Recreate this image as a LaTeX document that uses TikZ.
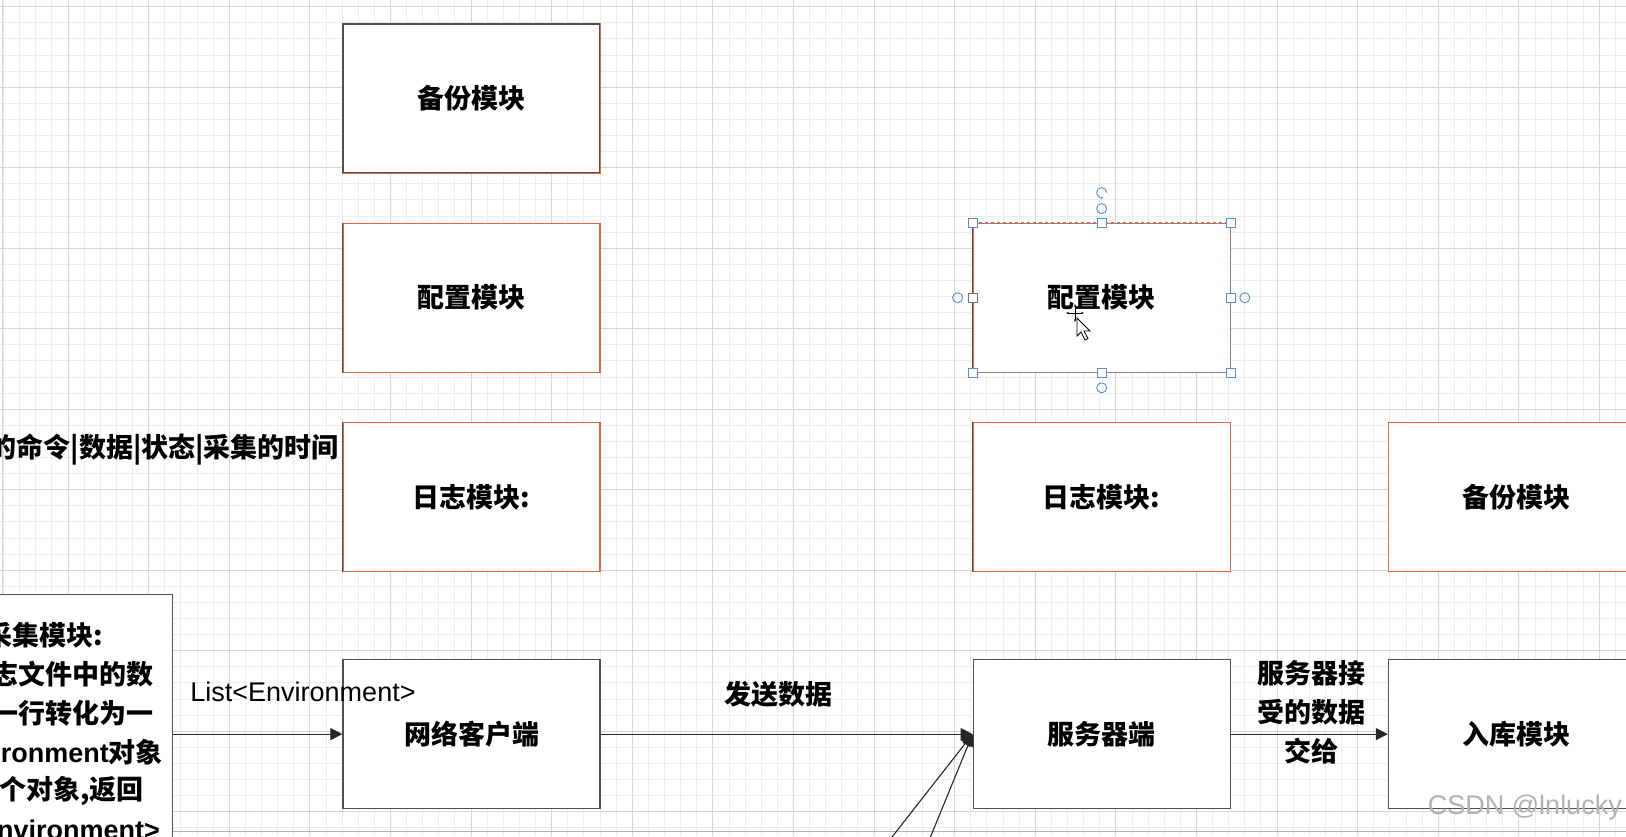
\documentclass[tikz,border=0pt]{standalone}
\usepackage{fontspec}
\setmainfont{Noto Sans CJK SC}
\newfontfamily\lat{Liberation Sans}
\usetikzlibrary{arrows.meta,positioning}
\definecolor{EdgeGray}{RGB}{80,80,80}
\definecolor{HotOrange}{RGB}{221,104,66}
\definecolor{GridMinor}{RGB}{237,237,237}
\definecolor{GridMajor}{RGB}{214,214,214}
\definecolor{PickBlue}{RGB}{86,142,206}
\definecolor{MarkGray}{RGB}{178,178,178}
\tikzset{
  modbox/.style={draw=EdgeGray, fill=white, line width=1.2pt,
    minimum width=257pt, minimum height=149pt, inner sep=0pt,
    font=\fontsize{27}{39}\selectfont\bfseries},
  hotbox/.style={modbox, draw=HotOrange},
  lbl/.style={inner sep=0pt, align=center,
    font=\fontsize{27}{39}\selectfont\bfseries},
  latlbl/.style={inner sep=0pt, font=\fontsize{27}{39}\selectfont\lat},
  arrow/.style={-{Triangle[length=12pt,width=12pt]}, line width=1.1pt, black!85},
  handle/.style={draw=PickBlue, fill=white, line width=0.9pt,
    minimum size=9pt, inner sep=0pt},
  ring/.style={draw=PickBlue, circle, line width=0.9pt,
    minimum size=10pt, inner sep=0pt},
  gridminor/.style={GridMinor, line width=0.8pt},
  gridmajor/.style={GridMajor, line width=1pt}
}

\begin{document}
\begin{tikzpicture}[x=1pt, y=-1pt, node distance=49pt]
% canvas and grid
\path[use as bounding box, clip] (0,0) rectangle (1626,836);
\fill[white] (0,0) rectangle (1626,836);
\foreach \i in {-4,...,97} \draw[gridminor] ({68+16.12*\i},0) -- ++(0,836);
\foreach \j in {0,...,52} \draw[gridminor] (0,{6.6+16.1*\j}) -- ++(1626,0);
\foreach \i in {-1,...,20} \draw[gridmajor] ({68+80.6*\i},0) -- ++(0,836);
\foreach \j in {0,...,10} \draw[gridmajor] (0,{6.6+80.5*\j}) -- ++(1626,0);
\draw[gridmajor] (2,0) -- (2,836);
\draw[black!30] (0,831) -- (1626,831);

% module boxes
\node[modbox] (bak1) at (471.5,98.5) {备份模块};
\node[hotbox, below=of bak1] (cfg1) {配置模块};
\node[hotbox, below=of cfg1] (log1) {日志模块:};
\node[modbox, below=87pt of log1] (net) {网络客户端};
\node[modbox, right=372pt of net] (srv) {服务器端};
\node[modbox, right=157pt of srv] (db) {入库模块};
\node[hotbox, above=87pt of srv] (log2) {日志模块:};
\node[hotbox, above=of log2] (cfg2) {配置模块};
\node[hotbox, right=157pt of log2] (bak2) {备份模块};
\node[modbox, minimum width=300pt, minimum height=300pt, anchor=north east] (col) at (173,594) {};

% edge colours as drawn
\draw[HotOrange, line width=1.2pt] (bak1.north east) -- (bak1.south east) -- (bak1.south west);
\foreach \b in {cfg1,log1,cfg2,log2}
  \draw[EdgeGray, line width=1.2pt] (\b.north west) -- (\b.south west);
\draw[PickBlue, line width=1.2pt, dash pattern=on 3pt off 3pt]
  (cfg2.north west) -- (cfg2.north east) -- (cfg2.south east) -- (cfg2.south west);

% texts cut by the window
\foreach \xr/\yy/\txt [count=\k] in {103/635/{采集模块:}, 154/674/{志文件中的数},
    154/713/{一行转化为一}, 163/752/{{\lat ironment}对象}, 144/791/{个对象,返回},
    160/830/{{\lat Environment>}}}
  \node[lbl, anchor=east] (coltext\k) at (\xr,\yy) {\txt};
\node[lbl, anchor=east] (cmdtext) at (339,450) {的命令|数据|状态|采集的时间};

% connectors
\coordinate (inA) at (874,860);
\coordinate (inB) at (921,860);
\draw[arrow] (net.west -| col.east) -- (net.west);
\draw[arrow] (net) -- (srv);
\draw[arrow] (inA) -- (srv.west);
\draw[arrow] (inB) -- (srv.west);
\draw[arrow] (srv) -- (db);
\node[latlbl] (listlbl) at (303,692) {List<Environment>};
\node[lbl] (sendlbl) at (778,694) {发送数据};
\node[lbl] (handlbl) at (1311,712) {服务器接\\受的数据\\交给};

% selection handles
\foreach \a/\n in {north west/nw, north/n, north east/ne, east/e,
    south east/se, south/s, south west/sw}
  \node[handle] (pick\n) at (cfg2.\a) {};
\node[handle, draw=black!55] (pickw) at (cfg2.west) {};
\node[ring] (ringn) at ([yshift=14pt]cfg2.north) {};
\node[ring] (rings) at ([yshift=-15pt]cfg2.south) {};
\node[ring] (ringw) at ([xshift=-15pt]cfg2.west) {};
\node[ring] (ringe) at ([xshift=14pt]cfg2.east) {};
\coordinate (rotc) at ([yshift=30pt]cfg2.north);
\draw[PickBlue, line width=0.9pt, -{Stealth[length=3pt]}]
  ([xshift=5pt]rotc) arc[start angle=0, end angle=290, radius=5pt];

% mouse pointer
\coordinate (curs) at (1075,313);
\draw[black, line width=0.9pt, -{Stealth[length=3pt]}] (curs) -- ++(-9,0);
\draw[black, line width=0.9pt, -{Stealth[length=3pt]}] (curs) -- ++(9,0);
\draw[black, line width=0.9pt, -{Stealth[length=3pt]}] (curs) -- ++(0,-9);
\draw[black, line width=0.9pt, -{Stealth[length=3pt]}] (curs) -- ++(0,9);
\draw[fill=white, line width=0.8pt] (1077,318) -- ++(0,18) -- ++(4,-4)
  -- ++(4,8) -- ++(3,-1.5) -- ++(-4,-7.5) -- ++(6,0) -- cycle;

% watermark
\node[latlbl, text=MarkGray, anchor=east] (mark) at (1622,808) {CSDN @lnlucky};
\end{tikzpicture}
\end{document}
